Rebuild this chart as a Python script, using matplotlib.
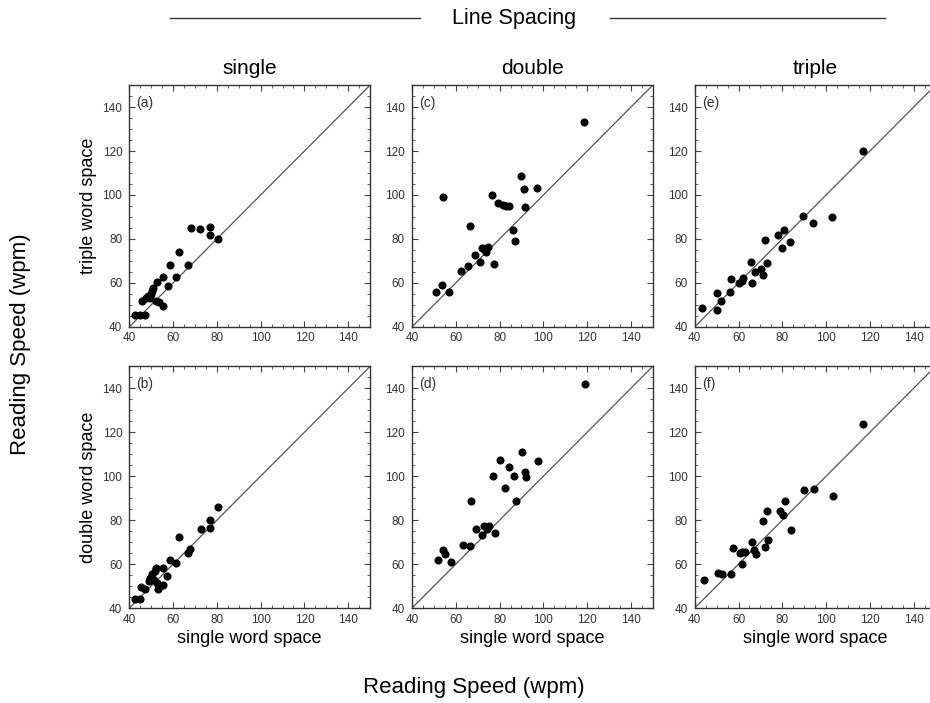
import matplotlib
matplotlib.use('Agg')
import matplotlib.pyplot as plt
from matplotlib.ticker import MultipleLocator
from matplotlib.lines import Line2D

plt.rcParams['font.family'] = ['Liberation Sans', 'DejaVu Sans']

# (a) single line spacing: single vs triple word space
a_x = [42.5, 45, 47, 46, 47.5, 48.5, 49.5, 50, 50.5, 51, 52.5, 53.5, 52, 55.5, 55.5, 57.5, 58.5, 61.5, 62.5, 67, 68, 72.5, 77, 77, 80.5]
a_y = [45.5, 45.5, 45.5, 52, 53, 54, 53, 55, 56.5, 57.5, 60.5, 51.5, 52, 62.5, 49.5, 58.5, 68, 62.5, 74, 68, 85, 84.5, 85.5, 82, 80]

# (b) single line spacing: single vs double word space
b_x = [42.5, 45, 45.5, 47.3, 48.8, 49.6, 50.3, 51.4, 51.9, 52.3, 52.6, 53, 55.3, 55.3, 57.2, 58.7, 61.3, 62.5, 67, 67.8, 72.7, 76.9, 76.9, 80.4]
b_y = [44, 44, 49.6, 48.7, 52.2, 53.7, 55.3, 53, 56.8, 58.3, 51.5, 48.7, 58.3, 50.7, 54.5, 62.1, 60.6, 72.5, 65.2, 66.7, 75.9, 80.2, 76.3, 85.8]

# (c) double line spacing: single vs triple word space
c_x = [51, 53.5, 54, 57, 62.5, 65.5, 66.5, 69, 71, 72, 73.5, 74, 74.5, 76.5, 77.5, 79.5, 81.5, 83, 84.5, 86, 87, 90, 91, 91.5, 97, 118.5]
c_y = [56, 59, 99, 56, 65.5, 67.5, 86, 72.5, 69.5, 76, 75, 74, 76.5, 100, 68.5, 96.5, 95.5, 95, 95, 84, 79, 108.5, 102.5, 94.5, 103, 133]

# (d) double line spacing: single vs double word space
d_x = [51.9, 54.2, 55.1, 58, 63.4, 66.4, 67.1, 69.4, 72, 73, 74.2, 75.3, 77, 77.7, 80.3, 82.3, 84.4, 86.6, 87.5, 90.4, 91.6, 92, 97.7, 118.8]
d_y = [62, 66.2, 64.6, 61.1, 68.9, 68.2, 88.5, 76.2, 73.1, 77.2, 76.2, 77.2, 100.3, 74.2, 107.2, 94.6, 104.3, 100, 88.5, 111.2, 102, 99.7, 106.9, 142]

# (e) triple line spacing: single vs triple word space
e_x = [43.5, 50.1, 50.1, 52, 56.1, 56.8, 60.3, 61.4, 62.1, 65.6, 66.3, 67.5, 70.5, 71.3, 72.3, 72.8, 78, 79.8, 80.6, 83.3, 89.3, 93.8, 102.7, 116.7]
e_y = [48.4, 55.5, 47.5, 52, 55.9, 61.9, 60, 60.8, 62.3, 69.5, 60, 65, 66.5, 63.5, 79.5, 69, 82, 76.1, 84.1, 78.5, 90.5, 87.1, 90.1, 120.2]

# (f) triple line spacing: single vs double word space
f_x = [44.1, 50.8, 52.5, 56.8, 57.3, 60.8, 61.8, 62.8, 61.8, 66.3, 67.1, 68.1, 72, 73.3, 71.1, 73, 78.8, 80.3, 81.4, 83.9, 89.9, 94.4, 103.2, 117]
f_y = [52.9, 56, 55.4, 55.7, 67.2, 64.9, 65.4, 65.6, 60.2, 70.2, 66.6, 64.6, 68, 71.2, 79.7, 84, 84, 82.2, 88.6, 75.6, 93.5, 94.3, 91.2, 123.9]

panels = [
    ('(a)', a_x, a_y, 0, 0),
    ('(b)', b_x, b_y, 1, 0),
    ('(c)', c_x, c_y, 0, 1),
    ('(d)', d_x, d_y, 1, 1),
    ('(e)', e_x, e_y, 0, 2),
    ('(f)', f_x, f_y, 1, 2),
]
col_titles = ['single', 'double', 'triple']
row_ylabels = ['triple word space', 'double word space']

fig = plt.figure(figsize=(9.3, 7.03), dpi=100)
lefts = [0.139, 0.443, 0.747]
bottoms = [0.535, 0.135]
w, h = 0.259, 0.344

for lab, xs, ys, r, c in panels:
    ax = fig.add_axes([lefts[c], bottoms[r], w, h])
    ax.plot([40, 150], [40, 150], color='#555555', lw=0.9, zorder=1)
    ax.scatter(xs, ys, s=34, color='black', zorder=3, linewidths=0)
    ax.set_xlim(40, 150)
    ax.set_ylim(40, 150)
    ax.set_xticks(range(40, 141, 20))
    ax.set_yticks(range(40, 141, 20))
    ax.xaxis.set_minor_locator(MultipleLocator(5))
    ax.yaxis.set_minor_locator(MultipleLocator(5))
    ax.tick_params(which='both', direction='in', top=True, right=True,
                   colors='#444444', labelcolor='#333333', labelsize=8.5)
    ax.tick_params(axis='x', pad=4)
    ax.tick_params(axis='y', pad=5)
    ax.tick_params(which='major', length=4)
    ax.tick_params(which='minor', length=2)
    for sp in ax.spines.values():
        sp.set_color('#333333')
        sp.set_linewidth(1.0)
    ax.text(0.03, 0.955, lab, transform=ax.transAxes, ha='left', va='top',
            fontsize=10, color='#333333')
    if r == 0:
        ax.set_title(col_titles[c], fontsize=15, pad=8)
    if r == 1:
        ax.set_xlabel('single word space', fontsize=13, labelpad=3)
    if c == 0:
        ax.set_ylabel(row_ylabels[r], fontsize=13, labelpad=4)

fig.text(0.553, 0.974, 'Line Spacing', ha='center', va='center', fontsize=15.5)
fig.add_artist(Line2D([0.183, 0.452], [0.974, 0.974], color='#333333', lw=1))
fig.add_artist(Line2D([0.656, 0.952], [0.974, 0.974], color='#333333', lw=1))
fig.text(0.51, 0.022, 'Reading Speed (wpm)', ha='center', va='center', fontsize=16)
fig.text(0.022, 0.51, 'Reading Speed (wpm)', ha='center', va='center',
         rotation=90, fontsize=16)

fig.savefig('out.png', dpi=100)
